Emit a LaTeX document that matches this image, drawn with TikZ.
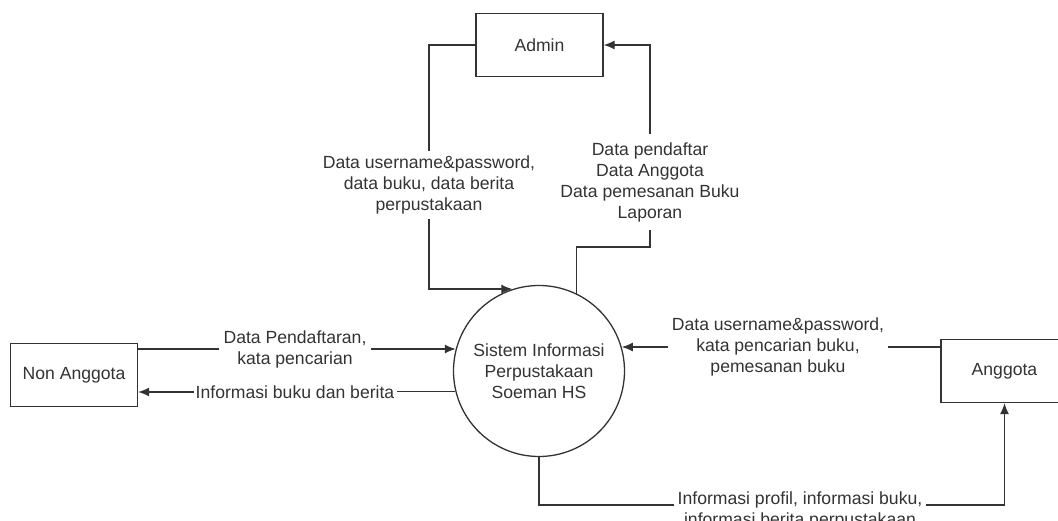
\documentclass[tikz,border=0pt]{standalone}
\usepackage{fontspec}
\setmainfont{Liberation Sans}
\usetikzlibrary{arrows.meta}

\begin{document}
\begin{tikzpicture}[x=1pt,y=-1pt,
  font=\fontsize{17.6}{21}\selectfont,color=black!80,
  >={Latex[length=11pt,width=9pt]},
  flow/.style={draw,line width=1.2pt},
  lbl/.style={align=center,inner xsep=4pt,inner ysep=5pt},
  ]
  \useasboundingbox (0,0) rectangle (1058,521);
  \begin{scope}[
    every node/.style={draw,line width=1.3pt,minimum width=127pt,minimum height=63pt,inner sep=0pt},
    ]
    \node (admin) at (539.5,45) {Admin};
    \node (non) at (74,375) {Non Anggota};
    \node (ang) at (1004.5,371) {Anggota};
    \node[circle,minimum size=171pt,align=center] (sis) at (539,371)
      {Sistem Informasi\\Perpustakaan\\Soeman HS};
  \end{scope}
  \node[lbl] (u1) at (429,185) {Data username\&password,\\data buku, data berita\\perpustakaan};
  \node[lbl,inner ysep=8pt] (u2) at (650,182) {Data pendaftar\\Data Anggota\\Data pemesanan Buku\\Laporan};
  \node[lbl] (u3) at (295,349) {Data Pendaftaran,\\kata pencarian};
  \node[lbl,inner sep=2pt] (u4) at (295,392) {Informasi buku dan berita};
  \node[lbl] (u5) at (778,347) {Data username\&password,\\kata pencarian buku,\\pemesanan buku};
  \node[lbl] (u6) at (800,510) {Informasi profil, informasi buku,\\informasi berita perpustakaan};
  \coordinate (k1) at (650,247);
  \coordinate (k2) at (539,505);
  \path[flow] (admin.west) -| (u1.north);
  \path[flow,->] (u1.south) |- (sis.108);
  \path[flow] (sis.64) |- (k1) -- (u2.south);
  \path[flow,->] (u2.north) |- (admin.east);
  \path[flow] (non.east |- u3.west) -- (u3.west);
  \path[flow,->] (u3.east) -- (u3.east -| sis.165);
  \path[flow] (sis.194) -- (sis.194 -| u4.east);
  \path[flow,->] (u4.west) -- (u4.west -| non.east);
  \path[flow] (ang.west |- u5.east) -- (u5.east);
  \path[flow,->] (u5.west) -- (u5.west -| sis.16);
  \path[flow] (sis.south) -- (k2) -- (k2 -| u6.west);
  \path[flow,->] (k2 -| u6.east) -| (ang.south);
\end{tikzpicture}
\end{document}
